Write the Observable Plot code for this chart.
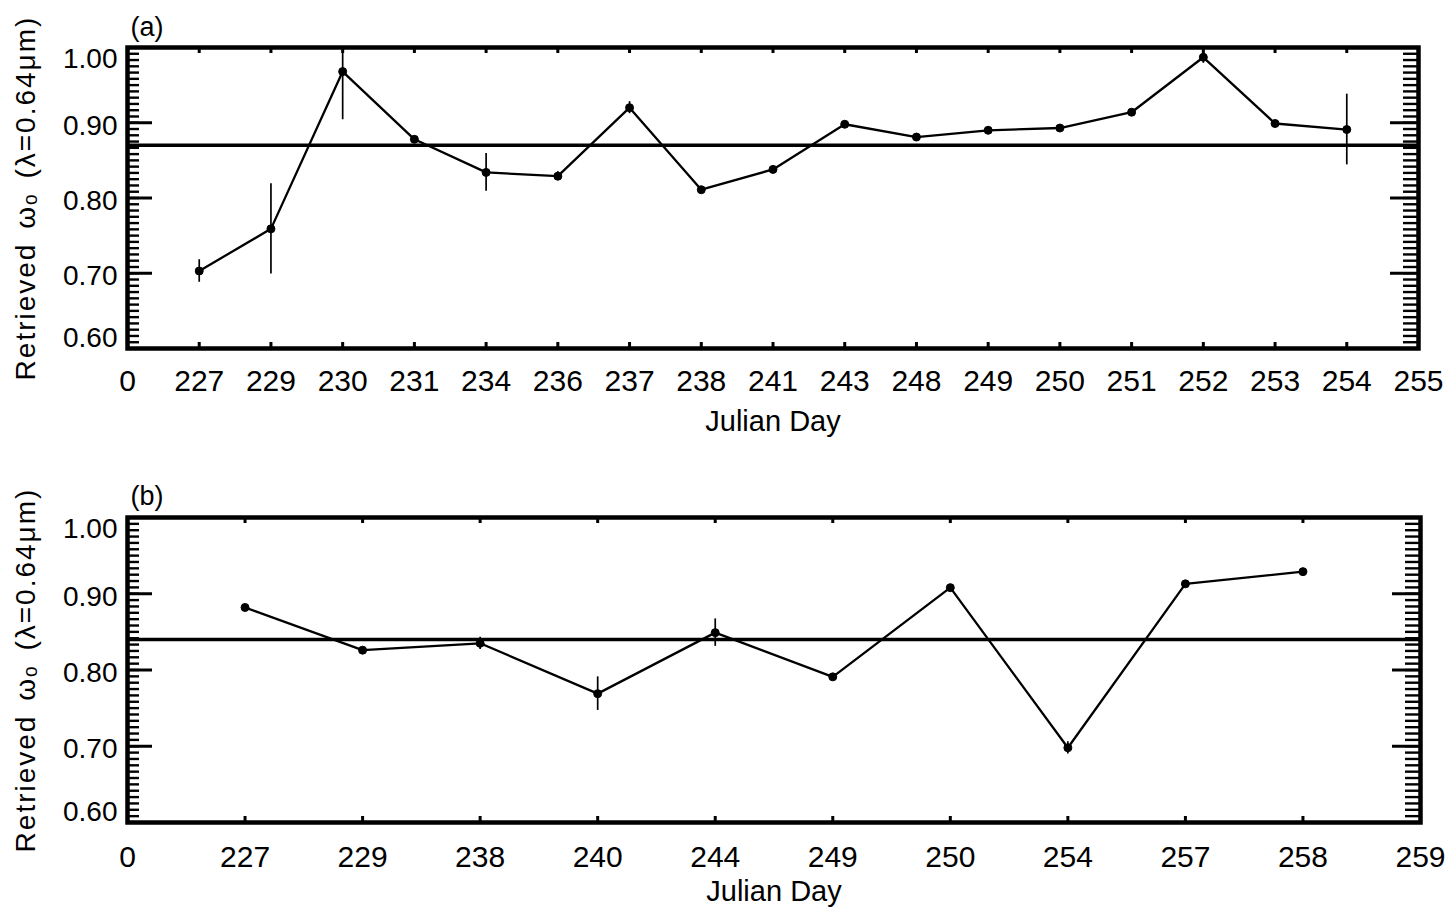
<!DOCTYPE html>
<html>
<head>
<meta charset="utf-8">
<script src="https://cdn.jsdelivr.net/npm/d3@7"></script>
<script src="https://cdn.jsdelivr.net/npm/@observablehq/plot@0.6"></script>
<style>
  body { margin: 0; background: #fff; }
  #chart { width: 1452px; height: 912px; }
  #chart svg { display: block; }
</style>
</head>
<body>
<div id="chart"></div>
<script>
// ---- Panel (a) ----
const daysA = ["0","227","229","230","231","234","236","237","238","241","243","248","249","250","251","252","253","254","255"];
const valuesA = [0.703,0.759,0.968,0.878,0.834,0.829,0.920,0.811,0.838,0.898,0.881,0.890,0.893,0.914,0.987,0.899,0.891];
const errorsA = [0.015,0.060,0.064,0.004,0.025,0.006,0.008,0.003,0.004,0.003,0.002,0.002,0.002,0.003,0.008,0.003,0.047];
const meanA = 0.870;

// ---- Panel (b) ----
const daysB = ["0","227","229","238","240","244","249","250","254","257","258","259"];
const valuesB = [0.882,0.826,0.835,0.769,0.849,0.791,0.908,0.698,0.913,0.929];
const errorsB = [0.003,0.003,0.008,0.022,0.018,0.004,0.004,0.008,0.004,0.003];
const meanB = 0.840;

const yTicks = [0.6, 0.7, 0.8, 0.9, 1.0];
const yTickLabels = ["0.60","0.70","0.80","0.90","1.00"];
const yLabel = "Retrieved ωₒ (λ=0.64μm)";
const xLabel = "Julian Day";

const FONT = "'Liberation Sans', Arial, Helvetica, sans-serif";

function panel({days, values, errors, mean, tag, marginTop, marginBottom, marginRight, xLabDy, titleDy, tagDy}) {
  const W = 1452, H = 456, ML = 127;
  const n = days.length - 1;
  const fw = W - ML - marginRight;
  const fh = H - marginTop - marginBottom;
  const data = values.map((v, i) => ({i: i + 1, v, lo: v - errors[i], hi: v + errors[i]}));
  const [y0, y1] = [yTicks[0], yTicks[yTicks.length - 1]];
  const minor = d3.range(0, 49).map(k => y0 + k * (y1 - y0) / 48);
  const inner = d3.range(1, n);
  const mid = yTicks.slice(1, -1);
  const svg = Plot.plot({
    width: W, height: H,
    marginLeft: ML, marginRight, marginTop, marginBottom,
    style: {fontFamily: FONT, background: "white", color: "black", overflow: "visible"},
    x: {domain: [0, n], axis: null},
    y: {domain: [y0, y1], axis: null},
    marks: [
      Plot.tickY(minor, {y: d => d, insetRight: fw - 12, strokeWidth: 2.4}),
      Plot.tickY(minor, {y: d => d, insetLeft: fw - 15, strokeWidth: 2.4}),
      Plot.tickY(yTicks, {y: d => d, insetRight: fw - 25, strokeWidth: 3}),
      Plot.tickY(yTicks, {y: d => d, insetLeft: fw - 28, strokeWidth: 3}),
      Plot.tickX(inner, {x: d => d, insetTop: fh - 6, strokeWidth: 3}),
      Plot.tickX(inner, {x: d => d, insetBottom: fh - 6, strokeWidth: 3}),
      Plot.ruleY([mean], {strokeWidth: 3.5}),
      Plot.ruleX(data, {x: "i", y1: "lo", y2: "hi", strokeWidth: 1.7, clip: true}),
      Plot.line(data, {x: "i", y: "v", strokeWidth: 2.3}),
      Plot.dot(data, {x: "i", y: "v", r: 4, fill: "black", stroke: "black", strokeWidth: 1}),
      Plot.frame({strokeWidth: 4.5}),
      Plot.text(days, {x: (d, i) => i, y: y0, dy: xLabDy, text: d => d, fontSize: 30, lineAnchor: "middle"}),
      Plot.text(mid, {x: 0, y: d => d, dx: -10, dy: 3, textAnchor: "end", fontSize: 28,
        text: d => yTickLabels[yTicks.indexOf(d)]}),
      Plot.text([y1], {x: 0, y: d => d, dx: -10, dy: 12, textAnchor: "end", fontSize: 28,
        text: d => yTickLabels[yTicks.length - 1]}),
      Plot.text([y0], {x: 0, y: d => d, dx: -10, dy: -10, textAnchor: "end", fontSize: 28,
        text: d => yTickLabels[0]}),
      Plot.text([xLabel], {frameAnchor: "bottom", dy: titleDy, text: d => d, fontSize: 29, lineAnchor: "middle"}),
      Plot.text([yLabel], {frameAnchor: "left", rotate: -90, dx: -101, text: d => d, fontSize: 28,
        lineAnchor: "middle", textAnchor: "middle"}),
      Plot.text([tag], {frameAnchor: "top-left", dx: 3, dy: tagDy, text: d => d, fontSize: 27,
        textAnchor: "start", lineAnchor: "middle"})
    ]
  });
  // widen the spacing of the rotated y-axis title, as in the original figure
  d3.select(svg).selectAll("text")
    .filter(function() { return this.textContent === yLabel; })
    .attr("letter-spacing", "2px")
    .attr("word-spacing", "4px");
  return svg;
}

const chart = document.getElementById("chart");
chart.append(panel({days: daysA, values: valuesA, errors: errorsA, mean: meanA, tag: "(a)",
  marginTop: 47, marginBottom: 108, marginRight: 34, xLabDy: 33, titleDy: 73, tagDy: -20}));
chart.append(panel({days: daysB, values: valuesB, errors: errorsB, mean: meanB, tag: "(b)",
  marginTop: 61, marginBottom: 90, marginRight: 32, xLabDy: 35, titleDy: 69, tagDy: -21}));
</script>
</body>
</html>
